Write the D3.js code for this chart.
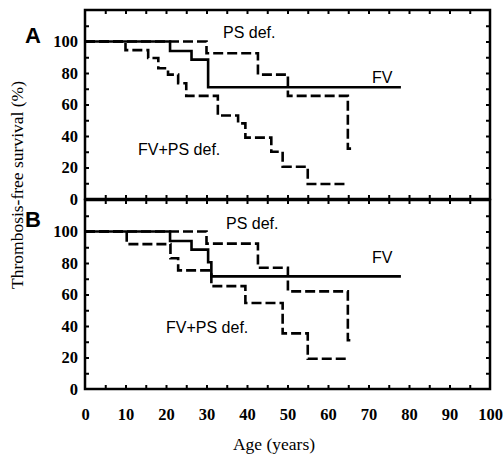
<!DOCTYPE html>
<html>
<head>
<meta charset="utf-8">
<script src="https://d3js.org/d3.v7.min.js"></script>
<style>
  body { margin: 0; background: #fff; }
  .tick-lab text { font-family: "Liberation Serif", serif; font-weight: bold; font-size: 16.5px; fill: #000; }
  .curve-label { font-family: "Liberation Sans", Arial, sans-serif; font-size: 16px; fill: #000; }
  .panel-label { font-family: "Liberation Sans", Arial, sans-serif; font-size: 22px; font-weight: bold; fill: #000; }
  .axis-title { font-family: "Liberation Serif", serif; font-size: 17.5px; fill: #000; }
</style>
</head>
<body>
<div id="chart"></div>
<script>
// tick labels
const xLabels = [0, 10, 20, 30, 40, 50, 60, 70, 80, 90, 100];
const yLabels = [0, 20, 40, 60, 80, 100];

// panel A: step times (age) and survival after each step, plus last follow-up age
const fvA_t = [0, 21, 26.3, 30.4];
const fvA_s = [100, 94, 88.5, 71];
const fvA_end = 78;
const psA_t = [0, 30, 42.7, 50.1, 64.9];
const psA_s = [100, 92.5, 79, 65.5, 32];
const psA_end = 65.7;
const fvpsA_t = [0, 10, 15.6, 18.1, 20.5, 23, 25, 32.8, 37.8, 39.6, 46, 48.8, 55];
const fvpsA_s = [100, 94.5, 89.5, 83, 79, 73.5, 65.5, 53, 48, 39, 30, 20.5, 9.5];
const fvpsA_end = 64.4;

// panel B
const fvB_t = [0, 21, 26.3, 30.4, 31.2];
const fvB_s = [100, 94, 88.5, 80.5, 71.5];
const fvB_end = 78;
const psB_t = [0, 30, 42.7, 50.1, 64.9];
const psB_s = [100, 92.3, 77, 62, 31];
const psB_end = 65.7;
const fvpsB_t = [0, 10.3, 21.1, 23, 31.2, 39.6, 48.8, 55];
const fvpsB_s = [100, 92, 83, 75.3, 65.3, 54.6, 35.3, 19.2];
const fvpsB_end = 64.4;

const W = 503, H = 455;
const left = 85, right = 490;

const svg = d3.select("#chart").append("svg")
  .attr("width", W).attr("height", H);

const x = d3.scaleLinear().domain([0, 100]).range([left, right]);

const panels = [
  { name: "A", top: 10, bottom: 199,
    series: [
      { t: fvA_t, s: fvA_s, end: fvA_end, dash: null },
      { t: psA_t, s: psA_s, end: psA_end, dash: "10,4" },
      { t: fvpsA_t, s: fvpsA_s, end: fvpsA_end, dash: "10,4" }
    ],
    labels: [
      { text: "PS def.", x: 223, y: 37.5 },
      { text: "FV", x: 372, y: 83 },
      { text: "FV+PS def.", x: 138, y: 155 }
    ] },
  { name: "B", top: 200, bottom: 389,
    series: [
      { t: fvB_t, s: fvB_s, end: fvB_end, dash: null },
      { t: psB_t, s: psB_s, end: psB_end, dash: "10,4" },
      { t: fvpsB_t, s: fvpsB_s, end: fvpsB_end, dash: "10,4" }
    ],
    labels: [
      { text: "PS def.", x: 226, y: 229 },
      { text: "FV", x: 372, y: 263 },
      { text: "FV+PS def.", x: 166, y: 333 }
    ] }
];

panels.forEach(p => {
  const y = d3.scaleLinear().domain([0, 120]).range([p.bottom, p.top]);
  const g = svg.append("g");

  // inward minor ticks on all four sides
  const tickStyle = sel => {
    sel.select(".domain").remove();
    sel.selectAll("line").attr("stroke", "#000").attr("stroke-width", 2);
  };
  g.append("g").attr("transform", `translate(0,${p.bottom})`)
    .call(d3.axisBottom(x).tickValues(d3.range(5, 100, 5)).tickSize(-4).tickFormat("")).call(tickStyle);
  g.append("g").attr("transform", `translate(0,${p.top})`)
    .call(d3.axisTop(x).tickValues(d3.range(5, 100, 5)).tickSize(-4).tickFormat("")).call(tickStyle);
  g.append("g").attr("transform", `translate(${left},0)`)
    .call(d3.axisLeft(y).tickValues(d3.range(10, 120, 10)).tickSize(-4).tickFormat("")).call(tickStyle);
  g.append("g").attr("transform", `translate(${right},0)`)
    .call(d3.axisRight(y).tickValues(d3.range(10, 120, 10)).tickSize(-4).tickFormat("")).call(tickStyle);

  // y tick labels
  g.append("g").attr("class", "tick-lab")
    .attr("transform", `translate(${left},0)`)
    .call(d3.axisLeft(y).tickValues(yLabels).tickSize(0).tickPadding(7))
    .call(s => s.select(".domain").remove());

  // frame
  g.append("rect")
    .attr("x", left).attr("y", p.top)
    .attr("width", right - left).attr("height", p.bottom - p.top)
    .attr("fill", "none").attr("stroke", "#000").attr("stroke-width", 2.5);

  // step curves
  const line = d3.line().x(d => x(d[0])).y(d => y(d[1])).curve(d3.curveStepAfter);
  p.series.forEach(sr => {
    const pts = sr.t.map((t, i) => [t, sr.s[i]]);
    pts.push([sr.end, sr.s[sr.s.length - 1]]);
    g.append("path")
      .datum(pts)
      .attr("d", line)
      .attr("fill", "none")
      .attr("stroke", "#000")
      .attr("stroke-width", 2.6)
      .attr("stroke-dasharray", sr.dash);
  });

  p.labels.forEach(l => {
    g.append("text").attr("class", "curve-label")
      .attr("x", l.x).attr("y", l.y).text(l.text);
  });

  g.append("text").attr("class", "panel-label")
    .attr("x", 25).attr("y", p.name === "A" ? 43 : 227)
    .text(p.name);
});

// x tick labels under panel B
svg.append("g").attr("class", "tick-lab")
  .attr("transform", `translate(0,389)`)
  .call(d3.axisBottom(x).tickValues(xLabels).tickSize(0).tickPadding(19))
  .call(s => s.select(".domain").remove());

svg.append("text").attr("class", "axis-title")
  .attr("text-anchor", "middle")
  .attr("x", 274).attr("y", 450)
  .text("Age (years)");

svg.append("text").attr("class", "axis-title")
  .attr("text-anchor", "middle")
  .attr("transform", "translate(23,185) rotate(-90)")
  .text("Thrombosis-free survival (%)");
</script>
</body>
</html>
